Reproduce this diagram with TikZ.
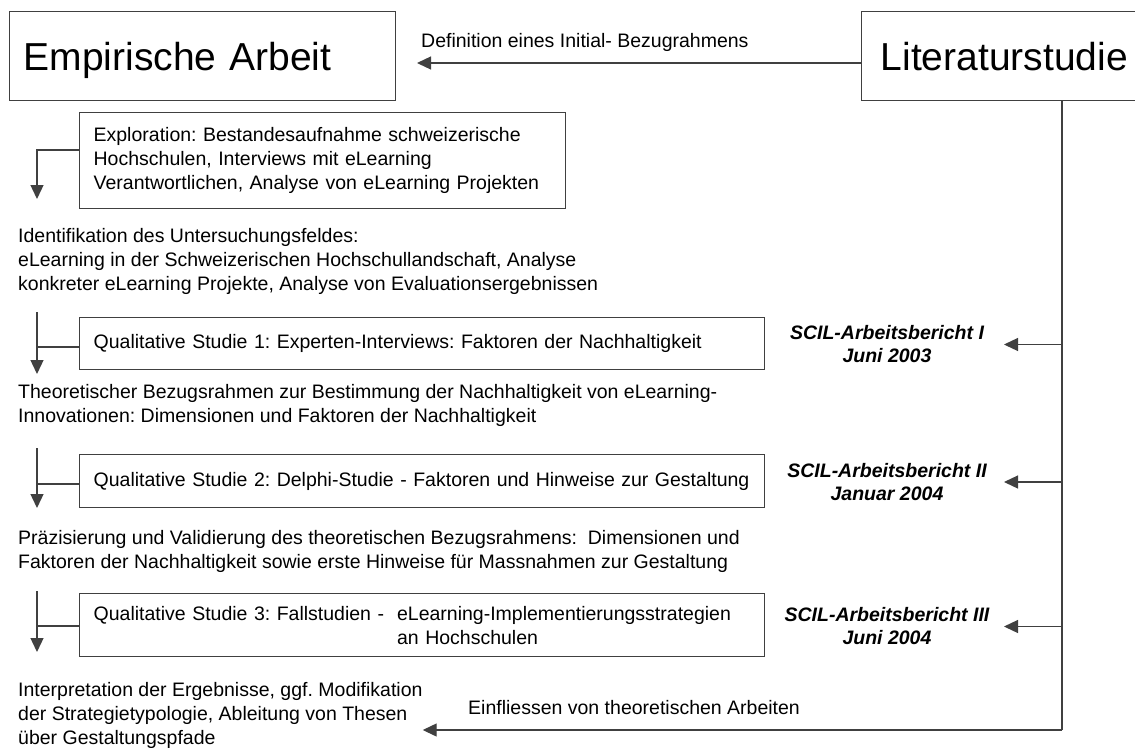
\documentclass[tikz,border=0pt]{standalone}
\usepackage{fontspec}
\setmainfont{Liberation Sans}
\usepackage{tikz}
\usetikzlibrary{arrows.meta}
\frenchspacing
\hyphenpenalty=10000

\tikzset{
  bigbox/.style={draw=black!75, line width=1.3pt, anchor=north west, align=left,
    minimum height=89pt, text depth=0pt, font=\fontsize{39}{45}\selectfont},
  stepbox/.style={draw=black!75, line width=1.3pt, anchor=north west, align=left,
    inner xsep=14pt, inner ysep=0pt},
  txt/.style={anchor=west, align=left, inner sep=0pt},
  report/.style={align=center, inner sep=0pt, font=\fontsize{19.5}{23}\selectfont\bfseries\itshape},
  arr/.style={-{Triangle[length=14pt,width=13pt]}},
  line/.style={draw=black!75, line width=1.3pt}
}

\begin{document}
\begin{tikzpicture}[x=1pt, y=-1pt, font=\fontsize{19.5}{24}\selectfont]
        \clip (0,0) rectangle (1135,747);

        % Draw the two main boxes
        \node[bigbox, inner xsep=14pt, minimum width=386pt, text width=358pt] (emp) at (9,11) {Empirische Arbeit};
        \node[bigbox, inner xsep=19pt, minimum width=402pt, text width=364pt] (lit) at (861,11) {Literaturstudie};

        % Initial frame of reference
        \coordinate (deftip) at (417,63);
        \draw[line, arr] (lit.west |- deftip) -- (deftip);
        \node[txt] (deflbl) at (421,42) {Definition eines Initial- Bezugrahmens};

        % Exploration
        \node[stepbox, minimum width=486pt, minimum height=96pt, text width=458pt] (expl) at (79,112)
          {Exploration: Bestandesaufnahme schweizerische\\Hochschulen, Interviews mit eLearning\\Verantwortlichen, Analyse von eLearning Projekten};
        \coordinate (b0) at (37,150);
        \coordinate (e0) at (37,199);
        \draw[line, arr] (expl.west |- b0) -- (b0) -- (e0);

        \node[txt] (ident) at (18,261) {Identifikation des Untersuchungsfeldes:\\eLearning in der Schweizerischen Hochschullandschaft, Analyse\\konkreter eLearning Projekte, Analyse von Evaluationsergebnissen};

        % Study 1
        \node[stepbox, minimum width=685pt, minimum height=52pt, text width=657pt] (s1) at (79,317)
          {Qualitative Studie 1: Experten-Interviews: Faktoren der Nachhaltigkeit};
        \coordinate (t1) at (37,312);
        \coordinate (b1) at (37,347);
        \coordinate (e1) at (37,374);
        \draw[line, arr] (t1) -- (e1);
        \draw[line] (s1.west |- b1) -- (b1);

        \node[txt] (theo) at (18,405) {Theoretischer Bezugsrahmen zur Bestimmung der Nachhaltigkeit von eLearning-\\Innovationen: Dimensionen und Faktoren der Nachhaltigkeit};

        % Study 2
        \node[stepbox, minimum width=685pt, minimum height=53pt, text width=657pt] (s2) at (79,454)
          {Qualitative Studie 2: Delphi-Studie - Faktoren und Hinweise zur Gestaltung};
        \coordinate (t2) at (37,448);
        \coordinate (b2) at (37,484);
        \coordinate (e2) at (37,508);
        \draw[line, arr] (t2) -- (e2);
        \draw[line] (s2.west |- b2) -- (b2);

        \node[txt] (praez) at (18,551.5) {Präzisierung und Validierung des theoretischen Bezugsrahmens:~ Dimensionen und\\Faktoren der Nachhaltigkeit sowie erste Hinweise für Massnahmen zur Gestaltung};

        % Study 3
        \node[stepbox, minimum width=685pt, minimum height=63pt, text width=657pt] (s3) at (79,593)
          {Qualitative Studie 3: Fallstudien -~ eLearning-Implementierungsstrategien\\\hphantom{Qualitative Studie 3: Fallstudien -~ }an Hochschulen};
        \coordinate (t3) at (37,591);
        \coordinate (b3) at (37,626);
        \coordinate (e3) at (37,652);
        \draw[line, arr] (t3) -- (e3);
        \draw[line] (s3.west |- b3) -- (b3);

        \node[txt] (interp) at (18,715) {Interpretation der Ergebnisse, ggf. Modifikation\\der Strategietypologie, Ableitung von Thesen\\über Gestaltungspfade};

        % Working reports
        \node[report] (rep1) at (887,344.5) {SCIL-Arbeitsbericht I\\Juni 2003};
        \node[report] (rep2) at (887,482) {SCIL-Arbeitsbericht II\\Januar 2004};
        \node[report] (rep3) at (887,626.5) {SCIL-Arbeitsbericht III\\Juni 2004};

        % Literature line on the right
        \coordinate (corner) at (1062,730);
        \coordinate (reptip) at (1004,0);
        \draw[line] (lit.south -| corner) -- (corner);
        \draw[line, arr] (rep1 -| corner) -- (rep1 -| reptip);
        \draw[line, arr] (rep2 -| corner) -- (rep2 -| reptip);
        \draw[line, arr] (rep3 -| corner) -- (rep3 -| reptip);
        \draw[line, arr] (corner) -- (corner -| interp.east);
        \node[txt] (einlbl) at (468,708) {Einfliessen von theoretischen Arbeiten};
    \end{tikzpicture}
\end{document}
